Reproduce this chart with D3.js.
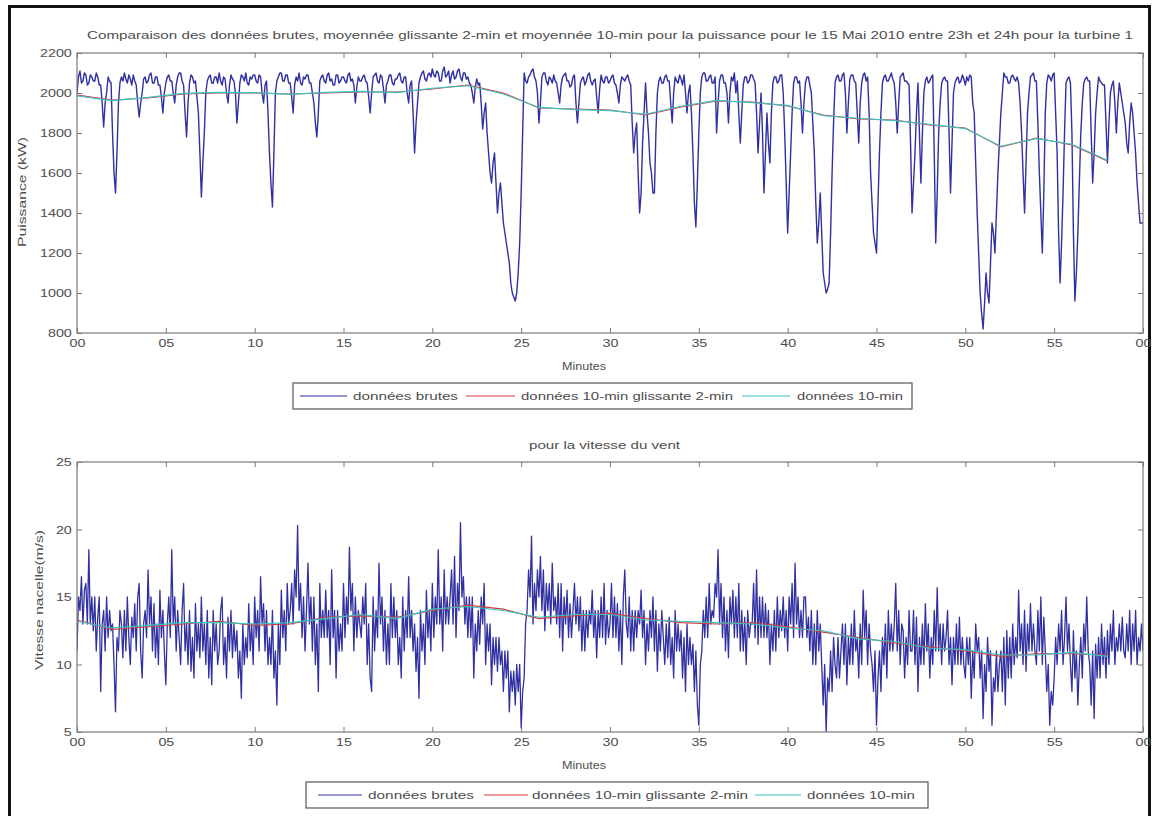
<!DOCTYPE html>
<html><head><meta charset="utf-8">
<script src="https://cdn.jsdelivr.net/npm/d3@7"></script>
<style>
body{margin:0;background:#fff;}
text{font-family:"Liberation Sans",Arial,sans-serif;fill:#4d4d4d;}
</style></head><body>
<svg id="chart" width="1152" height="816"></svg>
<script>
// Tick labels of the time axis (minutes of the hour 23h-24h)
const xTickLabels = ["00","05","10","15","20","25","30","35","40","45","50","55","00"];
const powerTicks = [800,1000,1200,1400,1600,1800,2000,2200];
const windTicks = [5,10,15,20,25];
const SAMPLES_PER_MIN = 12; // one sample every 5 s

// Raw power (kW), one row per minute
const rawPower = [
2000,2080,2110,2050,2060,2100,2090,2040,2050,2090,2080,2060,
2060,2100,2080,2040,2040,1950,1830,1950,2000,2080,2060,2050,
1800,1600,1500,1700,1950,2050,2080,2060,2100,2070,2050,2090,
2070,2040,2090,2060,2040,1950,1880,1950,2000,2070,2080,2050,
2060,2090,2100,2050,2050,2080,2080,2040,2040,1980,1900,2000,
2050,2080,2090,2060,2060,2000,1950,2040,2080,2100,2100,2060,
2040,1900,1780,1950,2050,2090,2080,2050,2060,1980,1900,1700,
1480,1650,1800,2000,2060,2080,2090,2050,2050,2080,2080,2050,
2100,2060,2040,2080,2070,2000,1950,2040,2090,2070,2060,2000,
1850,1950,2050,2090,2080,2060,2100,2050,2040,2080,2070,2090,
2090,2060,2050,2090,2080,2000,1950,2040,2060,1900,1700,1550,
1430,1700,2000,2060,2080,2100,2100,2060,2060,2090,2090,2050,
2050,1980,1900,2040,2080,2060,2100,2050,2040,2080,2070,2090,
2090,2050,2050,2000,1950,1850,1780,1900,2060,2080,2090,2060,
2050,2090,2100,2060,2070,2040,2040,2090,2090,2050,2060,2080,
2080,2060,2050,2090,2100,2060,2070,2040,1950,2030,2080,2060,
2060,2080,2090,2060,2050,1980,1900,2000,2080,2090,2100,2060,
2050,2090,2080,2020,1950,2040,2060,2090,2090,2050,2040,2070,
2070,2090,2100,2060,2050,2080,2080,2000,1950,2040,2060,1900,
1700,1850,1950,2050,2080,2100,2110,2070,2060,2090,2100,2080,
2120,2090,2080,2110,2100,2060,2060,2110,2130,2080,2090,2110,
2050,2090,2110,2070,2080,2110,2120,2080,2060,2100,2100,2070,
2080,2050,2040,2000,1950,2030,2070,2040,2050,1950,1820,1900,
1950,1800,1700,1600,1550,1650,1700,1550,1400,1500,1550,1450,
1350,1300,1250,1200,1150,1050,1000,980,960,1000,1100,1250,
1500,1800,2100,2060,2050,2080,2090,2110,2120,2080,2060,2000,
1850,1950,2080,2100,2100,2060,2040,2080,2070,2050,2090,2060,
2050,2000,1950,2040,2080,2090,2100,2060,2060,2030,2040,2080,
2090,1950,1850,1950,2050,2070,2080,2040,2060,2090,2100,2060,
2040,2060,2070,1980,1900,2020,2090,2060,2050,2080,2080,2050,
2060,2080,2090,2050,2040,2000,1950,2040,2080,2070,2060,2080,
2090,2060,2040,1850,1700,1800,1850,1600,1400,1500,1750,1900,
2050,1900,1800,1650,1600,1500,1500,1800,2000,2060,2080,2050,
2050,2080,2090,2060,2060,1950,1850,2000,2080,2060,2050,2090,
2070,2040,2090,2000,1900,2000,2040,1900,1700,1450,1330,1550,
1800,2000,2080,2100,2100,2060,2060,2080,2090,2050,2050,2080,
1800,1950,2060,2090,2090,2050,2050,2000,1850,2000,2080,2060,
2100,2000,2060,1900,1750,1900,2040,2080,2080,2050,2060,2090,
2090,2070,2050,1900,1700,1850,2000,1800,1500,1700,1900,1750,
1650,1900,2050,2080,2080,2050,2060,2090,2090,2000,1800,1550,
1300,1500,1700,1900,2050,2080,2080,2050,2060,1950,1800,1950,
2050,2080,2080,2040,2000,1850,1700,1450,1250,1350,1500,1300,
1100,1050,1000,1020,1050,1300,1600,1850,2050,2080,2090,2060,
2060,2090,2100,2000,1800,1950,2070,2090,2090,2060,2050,1900,
1750,1950,2050,2090,2100,2060,2080,1900,1600,1450,1300,1250,
1200,1450,1700,1900,2050,2080,2090,2060,2060,2080,2100,2070,
2050,1950,1800,1950,2080,2090,2100,2060,2060,2050,2040,1750,
1400,1550,1700,1900,2050,1800,1550,1800,2000,2060,2080,2050,
2060,2080,2090,1700,1250,1500,1800,1950,2050,2070,2080,2060,
2060,1800,1500,1750,2000,2050,2070,2080,2050,2060,2090,2070,
2040,2080,2060,2090,2080,1950,1900,1650,1400,1200,1000,900,
820,950,1100,1000,950,1150,1350,1300,1200,1400,1600,1750,
1900,2000,2100,2080,2080,2050,2050,2080,2090,2070,2060,2080,
2050,1950,1800,1600,1400,1650,1900,2000,2080,2090,2100,2060,
2060,1850,1600,1400,1200,1500,1900,2050,2090,2080,2060,2090,
2100,1900,1700,1300,1050,1250,1500,1800,2050,2070,2080,2050,
1800,1300,960,1100,1300,1550,1800,1950,2050,2070,2080,2060,
2060,1800,1550,1700,1900,2000,2080,2060,2050,2040,2040,1850,
1650,1850,2000,2040,2060,1950,1800,1950,2050,2000,1950,1900,
1850,1750,1700,1850,1950,1900,1800,1700,1550,1450,1350,1350,
1350
];

// Raw nacelle wind speed (m/s), one row per minute
const rawWind = [
11,15,14,16.5,13,15.5,16,13,18.5,13,15,12.5,
15,11,13.5,15,8,13,14,11,15,12,14,12.5,
13,10,6.5,12,11,14,13,10.5,14,11,15,12,
10,13.5,12,14.5,11,15,16,11,9,13,14,12,
17,13,15,11,14.5,10.5,13,10,15.5,12,14,11,
8.5,13,15,12,18.5,13,15,11,14,12,10,14,
16,11,13,10,14,9.5,12,9,14.5,11,13,10.5,
15,11,13,10,14,9,12,8.5,14,11,13,10,
11,14,15,10,12,9,13.5,11,14,10.5,13,11,
12.5,9,11,7.5,13,10,12,10.5,14.5,11,13,10,
15,12,14,11,16.5,13,14.5,11,14,10,12,10,
14,9,11,7,13,10,15.5,12,14,11,16,13,
14,16,13,17,15,20.3,14,16,12,15,11,14,
17.5,13,15,11,15,10,13,8,16,12,14,12,
15.5,12,14,10,17,12,14,9,14,11,13,11,
16,12,15,13,18.7,14,16,11,15,12,14,13,
12,15,13,16,10,13,9,8,15,11,14,12,
17.5,13,15,11,14,10,13,10,16,12,15,12,
14,10,12,9,15,11,14,12,16.5,12,14,11,
13,9.5,12,7.5,14,11,13,10,15.5,12,14,11,
16,12,15,13,18.5,13,15,11,17,13,15,13,
15,17,13,18,12,16,14,20.5,15,16.5,13,15,
12,15,12,15,9,13,11,14,11.5,15,13,16,
10,13,11,13,8.5,12,10,12,9.5,12,10,11,
8,11,9,11,6.5,9.5,8,9.5,7,10,8,10,
5.3,8,9,13,14,17,15,19.5,13,16,14,17,
15,18,14,17,12.5,16,14,16,13,17.5,14,15,
13,16,12,16,11,15,13,15.5,12,14.5,12,14,
16,13,15,12.5,15,11,14,11,14,12,14,13,
15.5,12,14,10.5,14,12,15,12,16,11.5,14,12,
13,16,12,15,12,14.5,11,14,10,15,17,13,
12,15,11,14,11,14,12,14,13,15.5,12,14,
10,13,11,14,12,15,11,14,9.5,13,11,14,
12,10,13,10.5,13.5,10,12,9,14,11,13,11,
12.5,9,12,8,13,10,12,10,11.5,8,11,7,
5.5,10,11,14,12,15,12,16,13,14,13.5,16,
15,18.5,13,16,12,15,11,14,10.5,15,13,15.5,
12,15,12,16,11,14,11,13.5,10,14,12,13,
13,16,12,17,11.5,15,12,15,12,14.5,12,14,
10,13,11,14,11,15,12,14,12.5,15,12,14,
11,15,13,16,12,17.5,13,15,12,14,12,15,
15,12,13.5,11,14,10,13,10,14,11,13,10,
7,10,5,9,8,11,8,12,10,9,12,9,
11,13,10,13,8.5,12,10,13,10,14,11,12,
9,13,10,15.5,12,14,10,13,11,10,8,11,
5.5,9,11,8,12,10,13,9,14,11,13,11,
13,16,11,14,10,13,12.5,9,12,10,14,11,
11,14,10,13.5,8,12,10,13,10,14.5,11,13,
9,12,10,14,11,15.7,11,13,10,13,11,12,
14,10,12,8.5,12,10,13,10,13.5,10,12,10,
9,12,10,12,7.5,11,9,13,11,12,9,11,
6,10,8,12,9.5,11,5.5,9,8,11,8,10,
11,8,12,7,12.5,9,12,9,13,10,12,10.5,
15.5,11,13,10,14,9.5,13,11,14.5,11,13,11,
10,14,11,15,10,13.5,11,8,10,5.5,8,7,
9,12,10,13,11,14,10,12,15,11,13,10,
8,12.5,9,11,7,10,12,9,13,11,15,11,
10,7,11,6,11.5,9,12,9,13,10,12,9,
12.5,10,13,11,14,10,12,11,13,11,13.5,11,
10.5,13,11,14,10,13,11,14,10,12,11,13,
11
];

// 10-min averages: sliding every 2 min, and the plain 10-min values
const avgMinutes = [0,2,4,6,8,10,12,14,16,18,20,22,24,26,28,30,32,34,36,38,40,42,44,46,48,50,52,54,56,58];
const powerSliding = [1990,1965,1975,1995,2000,2000,1995,2000,2005,2005,2020,2040,2000,1925,1920,1915,1890,1930,1960,1955,1935,1890,1870,1865,1840,1825,1730,1775,1740,1660];
const power10min   = [1985,1962,1978,1998,2003,2002,1993,2003,2008,2002,2024,2036,1995,1928,1917,1912,1894,1934,1963,1952,1938,1886,1874,1862,1844,1822,1734,1772,1744,1664];
const windSliding  = [13.3,12.6,12.8,13.0,13.2,12.9,13.0,13.5,13.6,13.5,14.0,14.4,14.1,13.4,13.6,13.8,13.4,13.1,13.0,13.1,12.8,12.4,12.0,11.6,11.3,11.0,10.6,10.8,10.8,10.7];
const wind10min    = [13.2,12.7,12.9,13.1,13.1,13.0,13.1,13.4,13.7,13.4,14.1,14.3,14.0,13.5,13.7,13.7,13.3,13.2,13.1,13.0,12.7,12.5,11.9,11.7,11.2,11.1,10.7,10.7,10.9,10.6];

const seriesColors = {raw:"#3030a2", sliding:"#d43c3c", ten:"#35c4c4"};
const legendLabels = ["données brutes","données 10-min glissante 2-min","données 10-min"];

const svg = d3.select("#chart");
svg.append("rect").attr("width",1152).attr("height",816).attr("fill","#fff");

// outer frame
svg.append("path").attr("d","M9.5,816 V6.5 H1149.5 V816")
  .attr("stroke","#111").attr("stroke-width",3).attr("fill","none");

const STRETCH = 1.3;
function stretchText(sel){ sel.attr("transform", "scale(" + STRETCH + ",1)"); }

function drawPanel(cfg){
  const x = d3.scaleLinear().domain([0,60]).range([77,1143]);
  const y = d3.scaleLinear().domain(cfg.yDomain).range([cfg.bottom, cfg.top]);
  const g = svg.append("g");
  const clipId = "clip" + cfg.id;
  svg.append("clipPath").attr("id",clipId).append("rect")
     .attr("x",77).attr("y",cfg.top).attr("width",1066).attr("height",cfg.bottom-cfg.top);

  const line = d3.line().x(d=>x(d[0])).y(d=>y(d[1]));
  const rawPts = cfg.raw.map((v,i)=>[i/SAMPLES_PER_MIN, v]);
  const dataG = g.append("g").attr("clip-path","url(#"+clipId+")");
  dataG.append("path").attr("d", line(rawPts)).attr("fill","none")
    .attr("stroke", seriesColors.raw).attr("stroke-width",cfg.rawWidth).attr("stroke-linejoin","round");
  dataG.append("path").attr("d", line(avgMinutes.map((m,i)=>[m, cfg.sliding[i]]))).attr("fill","none")
    .attr("stroke", seriesColors.sliding).attr("stroke-width",1.1);
  dataG.append("path").attr("d", line(avgMinutes.map((m,i)=>[m, cfg.ten[i]]))).attr("fill","none")
    .attr("stroke", seriesColors.ten).attr("stroke-width",1.1);

  // axes with inward ticks on all four sides
  const xTickVals = d3.range(0,61,5);
  const ax = g.append("g").attr("transform","translate(0,"+cfg.bottom+")")
    .call(d3.axisBottom(x).tickValues(xTickVals).tickSize(-5).tickPadding(6)
      .tickFormat((d,i)=>xTickLabels[i]));
  g.append("g").attr("transform","translate(0,"+cfg.top+")")
    .call(d3.axisTop(x).tickValues(xTickVals).tickSize(-5).tickFormat(""));
  const ay = g.append("g").attr("transform","translate(77,0)")
    .call(d3.axisLeft(y).tickValues(cfg.ticks).tickSize(-5).tickPadding(4).tickFormat(d3.format("d")));
  g.append("g").attr("transform","translate(1143,0)")
    .call(d3.axisRight(y).tickValues(cfg.ticks).tickSize(-5).tickFormat(""));
  g.selectAll(".domain").remove();
  g.selectAll(".tick line").attr("stroke","#7a7a7a");
  [ax, ay].forEach(a=>a.selectAll("text").attr("font-size",11).attr("fill","#4d4d4d").call(stretchText));
  ay.selectAll("text").attr("dy","0.35em");

  g.append("rect").attr("x",77).attr("y",cfg.top).attr("width",1066).attr("height",cfg.bottom-cfg.top)
    .attr("fill","none").attr("stroke","#7a7a7a").attr("stroke-width",1.2);

  // labels
  g.append("text").attr("x",584).attr("y",cfg.bottom+37).attr("text-anchor","middle")
    .attr("font-size",11).attr("textLength",44).attr("lengthAdjust","spacingAndGlyphs").text("Minutes");
  g.append("text").attr("transform","translate("+cfg.yLabelX+","+((cfg.top+cfg.bottom)/2+cfg.yLabelDy)+") rotate(-90)")
    .attr("text-anchor","middle").attr("font-size",11)
    .attr("textLength",cfg.yLabelLen).attr("lengthAdjust","spacingAndGlyphs").text(cfg.yLabel);
  g.append("text").attr("x",cfg.titleX).attr("y",cfg.titleY).attr("font-size",11)
    .attr("textLength",cfg.titleLen).attr("lengthAdjust","spacingAndGlyphs").text(cfg.title);

  // legend
  const L = cfg.legend;
  const lg = g.append("g");
  lg.append("rect").attr("x",L.x0).attr("y",L.y0).attr("width",L.x1-L.x0).attr("height",L.y1-L.y0)
    .attr("fill","#fff").attr("stroke","#555").attr("stroke-width",1.2);
  const keys = ["raw","sliding","ten"];
  L.items.forEach((it,i)=>{
    const ym = (L.y0+L.y1)/2;
    lg.append("line").attr("x1",it.l0).attr("x2",it.l1).attr("y1",ym).attr("y2",ym)
      .attr("stroke",seriesColors[keys[i]]).attr("stroke-width",1.2);
    lg.append("text").attr("x",it.t0).attr("y",ym+4).attr("font-size",11)
      .attr("textLength",it.tl).attr("lengthAdjust","spacingAndGlyphs").text(legendLabels[i]);
  });
}

drawPanel({
  id:1, top:53, bottom:333, yDomain:[800,2200], ticks:powerTicks,
  raw:rawPower, sliding:powerSliding, ten:power10min, rawWidth:1.4,
  yLabel:"Puissance (kW)", yLabelX:26, yLabelLen:110, yLabelDy:-1,
  title:"Comparaison des données brutes, moyennée glissante 2-min et moyennée 10-min pour la puissance pour le 15 Mai 2010 entre 23h et 24h pour la turbine 1",
  titleX:87, titleY:39, titleLen:1046,
  legend:{x0:293, x1:912, y0:383, y1:409,
    items:[{l0:300,l1:347,t0:353,tl:105},{l0:466,l1:515,t0:521,tl:212},{l0:742,l1:790,t0:797,tl:106}]}
});

drawPanel({
  id:2, top:462, bottom:732, yDomain:[5,25], ticks:windTicks,
  raw:rawWind, sliding:windSliding, ten:wind10min, rawWidth:1.3,
  yLabel:"Vitesse nacelle(m/s)", yLabelX:43, yLabelLen:140, yLabelDy:3,
  title:"pour la vitesse du vent",
  titleX:529, titleY:449, titleLen:151,
  legend:{x0:306, x1:928, y0:782, y1:808,
    items:[{l0:318,l1:362,t0:368,tl:106},{l0:484,l1:528,t0:532,tl:216},{l0:755,l1:801,t0:807,tl:108}]}
});
</script>
</body></html>
